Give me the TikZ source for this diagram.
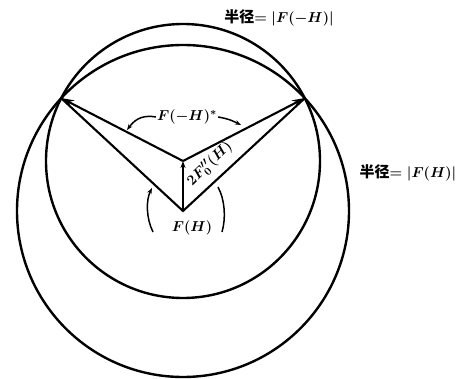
\documentclass[tikz,border=0pt]{standalone}
\usepackage{amsmath,amssymb,bm}
\usepackage{fontspec}
\newfontfamily\cjk{Noto Sans CJK SC}
\usepackage{tikz}
\usetikzlibrary{arrows.meta, positioning, calc}

\begin{document}
\begin{tikzpicture}[
    x=1pt, y=1pt,
    ring/.style={draw=black, line width=2.4pt},
    vec/.style={line width=2.1pt, line join=miter},
    vecarrow/.style={vec, -{Stealth[length=13pt, width=8pt]}},
    shortvec/.style={line width=1.8pt, -{Stealth[length=7pt, width=5pt]}},
    turn/.style={line width=1.5pt, -{Stealth[length=6pt, width=4.5pt]}},
    turnplain/.style={line width=1.5pt},
    lbl/.style={font=\fontsize{15}{17}\selectfont\bfseries\boldmath, inner sep=1pt}
]
    \useasboundingbox (0,0) rectangle (461,378);

    % centres of the two circles and the two crossing points
    \coordinate (O) at (183,167);
    \coordinate (P) at (183,217);
    \coordinate (L) at (61,280);
    \coordinate (R) at (305,280);

    \draw[ring] (O) circle[radius=166pt];
    \draw[ring] (P) circle[radius=137pt];

    % vectors
    \draw[vec] (L) -- (O) -- (R);
    \draw[vecarrow] (P) -- (L);
    \draw[vecarrow] (P) -- (R);
    \draw[shortvec] (O) -- (P);

    % labels
    \node[lbl] (rFmH) at (279,360) {{\cjk 半径}$=\lvert F(-H)\rvert$};
    \node[lbl] (rFH) at (408,205) {{\cjk 半径}$=\lvert F(H)\rvert$};
    \node[lbl] (FmH) at (187,261) {$F(-H)^{*}$};
    \node[lbl] (FH) at (192,150) {$F(H)$};
    \node[lbl, rotate=44] (Fpp) at (210,214) {$2F_0''(H)$};

    % turning arcs
    \coordinate (aL) at (127,248);
    \coordinate (aR) at (241,253);
    \draw[turn] (FmH.west) .. controls (140,264) and (133,256) .. (aL);
    \draw[turn] (FmH.east) .. controls (230,259) and (235,256) .. (aR);
    \coordinate (bL1) at (153,146);
    \coordinate (bL2) at (152,190);
    \coordinate (bR1) at (218,191);
    \coordinate (bR2) at (222,146);
    \draw[turn] (bL1) .. controls (146,160) and (146,178) .. (bL2);
    \draw[turnplain] (bR1) .. controls (225,178) and (226,160) .. (bR2);
\end{tikzpicture}
\end{document}
